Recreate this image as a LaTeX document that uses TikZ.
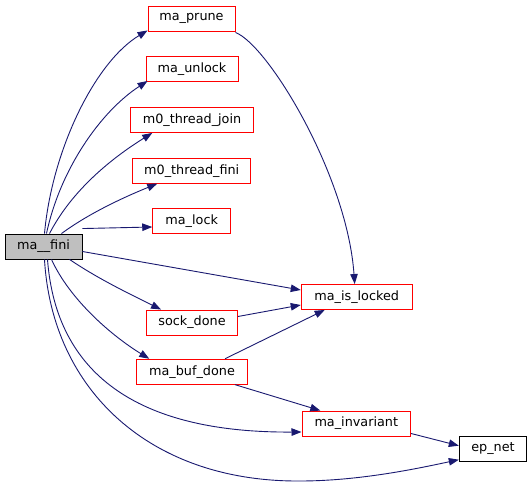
\documentclass[tikz,border=0pt]{standalone}
\usepackage{fontspec}
\setmainfont{DejaVu Sans}
\usetikzlibrary{arrows.meta}
\definecolor{edgeblue}{HTML}{191970}
\definecolor{boxred}{HTML}{FF0000}
\definecolor{fillgray}{HTML}{BFBFBF}
\tikzset{
  fn/.style={draw=boxred, line width=0.9pt, fill=white, minimum height=25pt, inner sep=0pt, font=\fontsize{12.8}{14}\selectfont},
  rootfn/.style={fn, draw=black, fill=fillgray},
  leaffn/.style={fn, draw=black},
  call/.style={draw=edgeblue, line width=0.9pt, -{Triangle[length=10pt,width=7.5pt]}, edgeblue},
}
\begin{document}
\begin{tikzpicture}[x=1pt,y=-1pt]
\useasboundingbox (0,0) rectangle (532,486);
\node[rootfn, minimum width=77pt] (fini) at (43.5,246.5) {ma\_\_fini};
\node[fn, minimum width=87pt] (prune) at (191.5,18.5) {ma\_prune};
\node[fn, minimum width=92pt] (unlock) at (192,69) {ma\_unlock};
\node[fn, minimum width=122.6pt] (tjoin) at (192,120) {m0\_thread\_join};
\node[fn, minimum width=118pt] (tfini) at (191.7,170.7) {m0\_thread\_fini};
\node[fn, minimum width=78pt] (lock) at (191.7,221) {ma\_lock};
\node[fn, minimum width=91pt] (sock) at (192,322.5) {sock\_done};
\node[fn, minimum width=110.6pt] (buf) at (192,371.7) {ma\_buf\_done};
\node[fn, minimum width=111pt] (islocked) at (356.7,297) {ma\_is\_locked};
\node[fn, minimum width=108.7pt] (inv) at (356.3,423.5) {ma\_invariant};
\node[leaffn, minimum width=67.5pt] (ep) at (493,448.7) {ep\_net};

\draw[call] ([xshift=1pt]fini.north) .. controls (52,150) and (95,62) .. ([yshift=1pt]prune.south west);
\draw[call] ([xshift=3pt]fini.north) .. controls (60,170) and (100,112) .. ([xshift=2pt,yshift=1pt]unlock.south west);
\draw[call] ([xshift=6pt]fini.north) .. controls (72,190) and (112,158) .. ([xshift=22pt]tjoin.south west);
\draw[call] ([xshift=18pt]fini.north) .. controls (88,214) and (122,198) .. ([xshift=25pt]tfini.south west);
\draw[call] ([yshift=5pt]fini.north east) -- ([yshift=-6pt]lock.west);
\draw[call] ([yshift=-5pt]fini.east) -- ([yshift=7pt]islocked.west);
\draw[call] ([xshift=26pt]fini.south) .. controls (100,280) and (132,295) .. ([xshift=15pt]sock.north west);
\draw[call] ([xshift=8pt]fini.south) .. controls (70,300) and (112,336) .. ([xshift=13pt]buf.north west);
\draw[call] ([xshift=4pt]fini.south) .. controls (56,372) and (135,433) .. ([yshift=-8.5pt]inv.west);
\draw[call] ([xshift=1pt]fini.south) .. controls (52,390) and (150,482) .. (300,481) .. controls (360,481) and (420,468) .. ([yshift=-11pt]ep.west);
\draw[call] ([yshift=-1pt]prune.south east) .. controls (268,45) and (347,175) .. ([xshift=-2pt]islocked.north);
\draw[call] ([yshift=6pt]sock.east) -- ([yshift=-8pt]islocked.west);
\draw[call] ([xshift=33pt]buf.north) -- ([xshift=-32pt]islocked.south);
\draw[call] ([xshift=43pt]buf.south) -- ([xshift=-36pt]inv.north);
\draw[call] ([yshift=-10pt]inv.east) -- ([yshift=3pt]ep.west);
\end{tikzpicture}
\end{document}
